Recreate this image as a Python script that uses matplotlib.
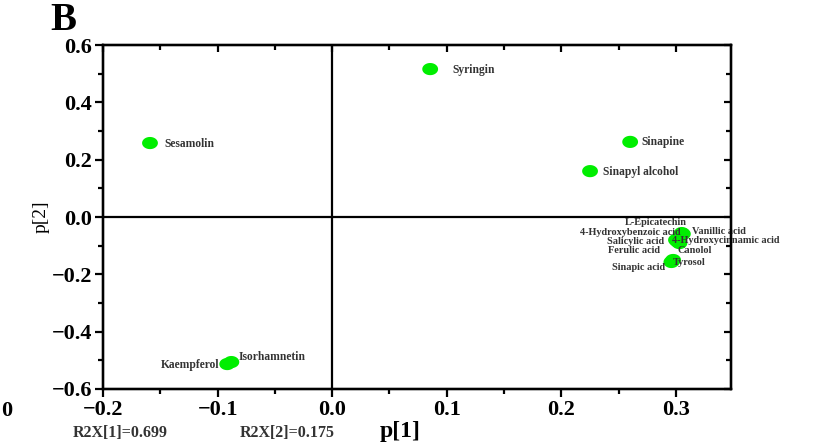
import numpy as np
import matplotlib
matplotlib.use('Agg')
import matplotlib.pyplot as plt
from matplotlib.path import Path
from matplotlib.ticker import MultipleLocator, NullFormatter

# loadings
names = ['Syringin', 'Sesamolin', 'Sinapine', 'Sinapyl alcohol',
         'Kaempferol', 'Isorhamnetin',
         'L-Epicatechin', '4-Hydroxybenzoic acid', 'Vanillic acid',
         'Salicylic acid', '4-Hydroxycinnamic acid', 'Ferulic acid',
         'Canolol', 'Tyrosol', 'Sinapic acid']
p1 = [0.0855, -0.159, 0.260, 0.225,
      -0.0916, -0.088,
      0.305, 0.304, 0.306,
      0.301, 0.302, 0.300,
      0.303, 0.2975, 0.296]
p2 = [0.516, 0.258, 0.262, 0.160,
      -0.513, -0.506,
      -0.056, -0.063, -0.059,
      -0.084, -0.087, -0.080,
      -0.091, -0.150, -0.157]
r2x = [0.699, 0.175]
xticks = [-0.2, -0.1, 0.0, 0.1, 0.2, 0.3]
yticks = [-0.6, -0.4, -0.2, 0.0, 0.2, 0.4, 0.6]

# label offsets in pixels (dx, dy, ha, fontsize)
offs = {
    'Syringin': (22, -1, 'left', 8.3),
    'Sesamolin': (14, -1, 'left', 8.3),
    'Sinapine': (11, 0, 'left', 8.3),
    'Sinapyl alcohol': (13, -1, 'left', 8.3),
    'Kaempferol': (-8, -1, 'right', 8.3),
    'Isorhamnetin': (7, 5, 'left', 8.3),
    'L-Epicatechin': (5, 11, 'right', 7.4),
    '4-Hydroxybenzoic acid': (0, 3, 'right', 7.4),
    'Vanillic acid': (9, 2, 'left', 7.4),
    'Salicylic acid': (-13, 0, 'right', 7.4),
    '4-Hydroxycinnamic acid': (-6, 1, 'left', 7.4),
    'Ferulic acid': (-16, -11, 'right', 7.4),
    'Canolol': (-2, -7, 'left', 7.4),
    'Tyrosol': (0, -2, 'left', 7.4),
    'Sinapic acid': (-6, -5, 'right', 7.4),
}

plt.rcParams['font.family'] = ['Liberation Serif', 'DejaVu Serif']

fig = plt.figure(figsize=(8.13, 4.47), dpi=100)
ax = fig.add_axes([103/813, 1-389/447, (731-103)/813, (389-45)/447])

t = np.linspace(0, 2*np.pi, 40)
ell = Path(np.column_stack([1.3*np.cos(t), np.sin(t)]))

ax.axhline(0, color='k', lw=1.6, zorder=1)
ax.axvline(0, color='k', lw=1.6, zorder=1)
ax.scatter(p1, p2, s=130, marker=ell, color='#00ee00', edgecolors='none', zorder=3)

for n, x, y in zip(names, p1, p2):
    dx, dy, ha, fs = offs[n]
    ax.annotate(n, (x, y), xytext=(dx, dy), textcoords='offset pixels',
                ha=ha, va='center', fontsize=fs, fontweight='bold',
                color='#333333', zorder=4)

xlim = (-0.2, 0.348)
ylim = (-0.6, 0.6)
ax.set_xlim(xlim)
ax.set_ylim(ylim)
ax.set_xticks(xticks)
ax.set_xticklabels([('%.1f' % v).replace('-', '\u2212') for v in xticks])
ax.set_yticks(yticks)
ax.set_yticklabels([('%.1f' % v).replace('-', '\u2212') for v in yticks])
ax.xaxis.set_minor_locator(MultipleLocator(0.05))
ax.yaxis.set_minor_locator(MultipleLocator(0.1))

for s in ax.spines.values():
    s.set_linewidth(1.6)
ax.tick_params(which='both', width=1.6, direction='out')
ax.tick_params(which='major', length=6, labelsize=16, pad=2)
ax.tick_params(which='minor', length=3.5)
for lab in ax.get_xticklabels() + ax.get_yticklabels():
    lab.set_fontweight('bold')

# top and right ticks point inward
axt = ax.twiny()
axt.set_xlim(xlim)
axt.xaxis.set_major_locator(MultipleLocator(0.1))
axt.xaxis.set_minor_locator(MultipleLocator(0.05))
axt.xaxis.set_major_formatter(NullFormatter())
axt.tick_params(which='both', direction='in', width=1.6)
axt.tick_params(which='major', length=5)
axt.tick_params(which='minor', length=3.5)
axr = ax.twinx()
axr.set_ylim(ylim)
axr.yaxis.set_major_locator(MultipleLocator(0.2))
axr.yaxis.set_minor_locator(MultipleLocator(0.1))
axr.yaxis.set_major_formatter(NullFormatter())
axr.tick_params(which='both', direction='in', width=1.6)
axr.tick_params(which='major', length=5)
axr.tick_params(which='minor', length=3.5)
for a in (axt, axr):
    for s in a.spines.values():
        s.set_linewidth(1.6)

ax.set_ylabel('p[2]', fontsize=14, labelpad=1)

fig.text(50/813, 1-20/447, 'B', fontsize=28, fontweight='bold', ha='left', va='center')
fig.text(1/813, 1-411/447, '0', fontsize=16, fontweight='bold', ha='left', va='center')
fig.text(73/813, 1-433/447, 'R2X[1]=%.3f' % r2x[0], fontsize=11.5, fontweight='bold',
         color='#333333', ha='left', va='center')
fig.text(240/813, 1-433/447, 'R2X[2]=%.3f' % r2x[1], fontsize=11.5, fontweight='bold',
         color='#333333', ha='left', va='center')
fig.text(380/813, 1-431/447, 'p[1]', fontsize=17, fontweight='bold',
         ha='left', va='center')

fig.savefig('out.png', dpi=100)
